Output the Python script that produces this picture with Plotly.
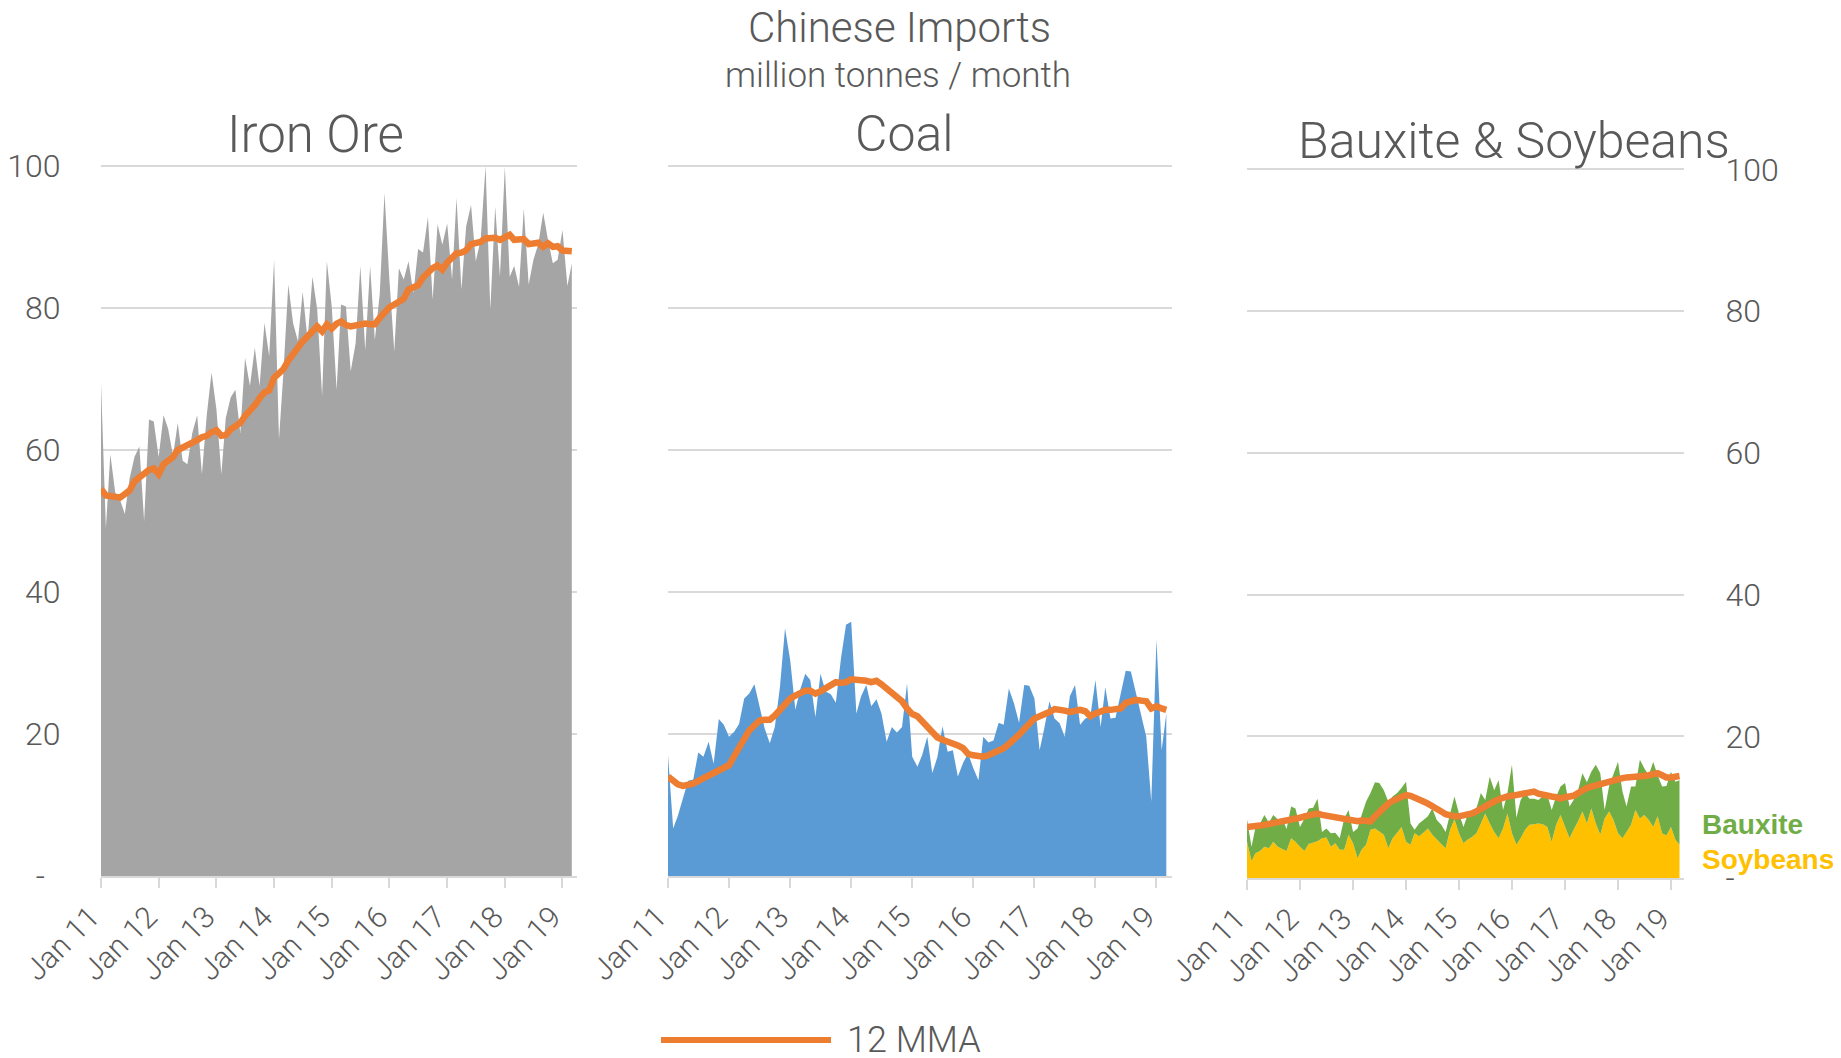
import pandas as pd
import plotly.graph_objects as go

# monthly observations, Jan 2011 - Mar 2019
months = pd.date_range("2011-01-01", "2019-03-01", freq="MS")

iron_ore = [69.4, 49, 59.4, 54, 53, 51, 56, 59, 60.5, 50,
            64.3, 64, 59, 64.9, 63, 59.2, 63.8, 58.5, 58, 62.4,
            64.9, 56.6, 65, 70.9, 65.7, 56.6, 64.5, 67.4, 68.5, 62.4,
            73, 69, 74.4, 69, 77.9, 73.2, 86.8, 61.5, 70.9, 83.3,
            77.9, 75.3, 82.3, 75.5, 84.4, 79.8, 67.6, 86.6, 80.2, 68.5,
            80.5, 80.2, 71.1, 75, 85.9, 74.1, 85.9, 75.5, 82, 96.2,
            84, 73.9, 85.6, 84, 86.6, 82.1, 88.3, 87.8, 92.8, 81.2,
            91.8, 88.9, 91.9, 84, 95.5, 82.6, 91.5, 94.5, 86.6, 89.6,
            100, 79.8, 94.3, 84.4, 99.9, 84.4, 85.9, 83, 94, 83.3,
            86.8, 89, 93.4, 89.6, 86.3, 86.8, 91, 83.1, 86.3]
iron_ore_mma = [54.5, 53.6, 53.5, 53.4, 53.3, 53.8, 54.3, 55.6, 56.2, 56.8,
                57.2, 57.4, 56.6, 58.0, 58.4, 59.0, 60.0, 60.3, 60.7, 61.0,
                61.4, 61.8, 62.0, 62.5, 62.8, 62.0, 62.1, 62.9, 63.3, 63.8,
                64.8, 65.4, 66.3, 67.3, 68.1, 68.4, 70.2, 70.8, 71.4, 72.6,
                73.6, 74.6, 75.3, 76.0, 76.6, 77.4, 76.7, 77.7, 77.1, 77.8,
                78.1, 77.6, 77.4, 77.6, 77.8, 77.8, 77.7, 77.7, 78.6, 79.5,
                80.1, 80.5, 80.9, 81.3, 82.6, 82.9, 83.2, 84.3, 85.0, 85.6,
                86.0, 85.4, 86.4, 87.1, 87.7, 87.8, 88.1, 89.0, 89.1, 89.3,
                89.8, 89.9, 89.9, 89.6, 90.0, 90.3, 89.6, 89.6, 89.7, 89.0,
                89.1, 89.2, 88.6, 89.1, 88.6, 88.7, 88.1, 88.0, 88.0]

coal = [17, 6.7, 8.5, 11, 13.4, 13.6, 17.4, 16.8, 18.9, 15.8,
        22.1, 21.3, 19.6, 20.3, 21.4, 25, 25.7, 27, 23.8, 20.8,
        18.7, 21, 26.7, 34.9, 30.4, 23.4, 26.2, 28.5, 27.6, 22.4,
        28.5, 26, 25.6, 24.4, 30.7, 35.4, 35.8, 22.9, 25.3, 26.9,
        23.9, 24.9, 22.9, 18.9, 21, 20.2, 21, 27.1, 16.8, 15.4,
        17, 19.6, 14.5, 16.8, 21.1, 17.5, 17.7, 14, 15.9, 17.3,
        15.2, 13.5, 19.6, 18.8, 19.1, 21.6, 21.3, 26.4, 24.3, 21.6,
        26.9, 26.8, 25, 17.7, 20.8, 24.6, 22.2, 21.5, 19.6, 25.3,
        26.9, 21.3, 22.2, 22.4, 27.6, 21, 26.6, 22.2, 22.3, 25.7,
        28.9, 28.8, 25.7, 22.4, 19.6, 10.5, 33.3, 17.7, 22.9]
coal_mma = [14.0, 13.5, 12.9, 12.7, 12.8, 13.0, 13.4, 13.8, 14.1, 14.4,
            15.0, 15.3, 15.6, 16.9, 18.2, 19.6, 20.5, 21.2, 21.9, 22.0,
            22.0, 22.6, 23.4, 24.2, 25.0, 25.4, 25.8, 26.1, 26.1, 25.7,
            26.0, 26.4, 27.0, 27.3, 27.2, 27.3, 27.7, 27.7, 27.6, 27.5,
            27.3, 27.5, 27.0, 26.4, 25.8, 25.3, 24.6, 23.6, 22.8, 22.5,
            21.8, 21.0, 20.3, 19.5, 19.2, 19.0, 18.8, 18.4, 18.0, 17.2,
            17.0, 16.8, 16.8, 17.0, 17.3, 17.7, 18.0, 18.6, 19.2, 19.9,
            20.7, 21.4, 22.2, 22.5, 22.7, 23.1, 23.5, 23.5, 23.3, 23.1,
            23.3, 23.4, 23.2, 22.5, 22.9, 23.2, 23.4, 23.4, 23.4, 23.6,
            24.4, 24.7, 24.8, 24.7, 24.6, 23.6, 23.9, 23.6, 23.4]

soybeans = [5.1, 2.4, 3.5, 3.8, 4.4, 4.2, 5.1, 4.4, 4.1, 3.8,
            5.6, 5.1, 4.4, 3.8, 4.8, 5.0, 5.2, 5.6, 5.7, 4.4,
            4.9, 4.0, 4.0, 6.1, 4.9, 2.8, 4.0, 4.7, 6.8, 7.0,
            6.6, 6.1, 4.2, 5.6, 6.4, 7.2, 5.1, 4.7, 6.3, 5.9,
            6.4, 7.0, 6.1, 5.4, 4.8, 4.2, 6.8, 8.3, 6.3, 4.9,
            5.4, 5.8, 6.3, 7.7, 9.1, 7.7, 6.5, 5.6, 7.0, 9.1,
            6.3, 4.7, 5.6, 6.8, 7.5, 7.6, 7.7, 7.6, 7.2, 5.1,
            7.5, 8.9, 7.2, 5.6, 6.8, 8.0, 9.4, 7.7, 9.8, 7.7,
            6.1, 8.4, 9.4, 8.2, 6.3, 5.6, 6.5, 7.5, 9.6, 8.4,
            8.9, 8.2, 7.2, 8.7, 6.3, 6.0, 7.2, 5.4, 4.7]
bauxite = [3.2, 2.0, 3.7, 3.9, 4.5, 3.6, 3.8, 3.9, 4.3, 3.1,
           4.5, 4.7, 2.8, 4.6, 5.0, 4.9, 6.0, 0.9, 1.3, 1.9,
           1.5, 1.6, 4.4, 3.5, 1.6, 4.2, 4.9, 6.1, 5.2, 6.5,
           6.8, 6.3, 6.6, 5.9, 5.6, 5.5, 8.5, 3.0, 0.5, 1.8,
           1.8, 1.7, 3.7, 2.8, 2.7, 2.3, 2.3, 3.2, 2.8, 2.3,
           3.5, 3.8, 3.5, 4.3, 1.9, 6.6, 5.9, 8.2, 2.6, 2.9,
           9.7, 3.8, 5.4, 5.2, 3.7, 3.6, 3.3, 3.9, 4.5, 4.5,
           4.0, 4.0, 6.2, 4.5, 4.2, 4.4, 5.4, 5.8, 5.2, 8.3,
           8.7, 1.2, 3.6, 6.6, 10.1, 6.6, 3.6, 5.4, 3.3, 8.3,
           6.6, 6.3, 9.2, 5.8, 6.6, 7.0, 7.8, 8.2, 9.1]
bauxite_soy_mma = [7.2, 7.2, 7.3, 7.4, 7.5, 7.6, 7.7, 7.8, 7.9, 8.1,
                   8.2, 8.3, 8.5, 8.7, 8.8, 9.0, 9.1, 8.9, 8.8, 8.6,
                   8.5, 8.3, 8.2, 8.1, 8.1, 8.0, 8.1, 8.0, 8.0, 8.7,
                   9.4, 10.0, 10.5, 10.9, 11.1, 11.4, 11.7, 11.6, 11.4, 11.1,
                   10.8, 10.5, 10.2, 9.8, 9.4, 9.0, 8.8, 8.7, 8.7, 8.8,
                   9.0, 9.1, 9.4, 9.8, 10.1, 10.4, 10.8, 11.1, 11.4, 11.5,
                   11.6, 11.7, 11.8, 12.0, 12.1, 12.2, 11.9, 11.7, 11.6, 11.5,
                   11.4, 11.2, 11.4, 11.5, 11.6, 12.0, 12.4, 12.7, 12.9, 13.1,
                   13.3, 13.4, 13.6, 13.9, 14.1, 14.1, 14.2, 14.2, 14.3, 14.4,
                   14.4, 14.5, 14.6, 14.8, 14.5, 14.2, 14.2, 14.3, 14.4]

for s in (iron_ore, iron_ore_mma, coal, coal_mma, soybeans, bauxite, bauxite_soy_mma):
    assert len(s) == len(months), len(s)

year_ticks = pd.date_range("2011-01-01", "2019-01-01", freq="YS")
year_labels = ["Jan 11", "Jan 12", "Jan 13", "Jan 14", "Jan 15",
               "Jan 16", "Jan 17", "Jan 18", "Jan 19"]
y_ticks = [0, 20, 40, 60, 80, 100]
y_labels_left = ["-\u00a0\u00a0", "20", "40", "60", "80", "100"]
y_labels_right = ["-", "20", "40", "60", "80", "100"]

W, H = 1841, 1058
OFF = 8  # the page body margin shifts the figure by this much
GRID = "#D9D9D9"
TEXT = "#595959"
ORANGE = "#ED7D31"
Y_TOP = 100.5  # a little headroom so the 100 gridline is drawn


def px(x):
    return (x - OFF) / W


def py(y):
    return 1 - (y - OFF) / H


fig = go.Figure()

fig.add_trace(go.Scatter(x=months, y=iron_ore, mode="lines", fill="tozeroy",
                         line=dict(width=0, color="#A5A5A5"), fillcolor="#A5A5A5",
                         xaxis="x", yaxis="y"))
fig.add_trace(go.Scatter(x=months, y=iron_ore_mma, mode="lines",
                         line=dict(width=6.5, color=ORANGE), xaxis="x", yaxis="y"))

fig.add_trace(go.Scatter(x=months, y=coal, mode="lines", fill="tozeroy",
                         line=dict(width=0, color="#5B9BD5"), fillcolor="#5B9BD5",
                         xaxis="x2", yaxis="y2"))
fig.add_trace(go.Scatter(x=months, y=coal_mma, mode="lines",
                         line=dict(width=6.5, color=ORANGE), xaxis="x2", yaxis="y2"))

fig.add_trace(go.Scatter(x=months, y=soybeans, mode="lines", stackgroup="bs",
                         line=dict(width=0, color="#FFC000"), fillcolor="#FFC000",
                         xaxis="x3", yaxis="y3"))
fig.add_trace(go.Scatter(x=months, y=bauxite, mode="lines", stackgroup="bs",
                         line=dict(width=0, color="#70AD47"), fillcolor="#70AD47",
                         xaxis="x3", yaxis="y3"))
fig.add_trace(go.Scatter(x=months, y=bauxite_soy_mma, mode="lines",
                         line=dict(width=6.5, color=ORANGE), xaxis="x3", yaxis="y3"))


def xaxis(x0, x1, anchor):
    return dict(domain=[px(x0), px(x1)], anchor=anchor, type="date",
                range=["2011-01-01", "2019-04-01"], automargin=False,
                tickvals=year_ticks, ticktext=[t + "\u00a0\u00a0" for t in year_labels],
                tickangle=-45,
                ticks="outside", ticklen=10, tickwidth=2, tickcolor=GRID,
                showline=True, linecolor=GRID, linewidth=2, showgrid=False,
                tickfont=dict(size=30, color=TEXT), ticklabelstandoff=-11,
                fixedrange=True)


def yaxis(px0, px100, anchor, **kw):
    # px0 / px100: pixel rows of the values 0 and 100
    top = px0 - (px0 - px100) * Y_TOP / 100
    d = dict(domain=[py(px0), py(top)], anchor=anchor, range=[0, Y_TOP],
             automargin=False,
             tickvals=y_ticks, showgrid=True, gridcolor=GRID, gridwidth=2,
             zeroline=False, showline=False, ticks="outside", ticklen=33,
             tickcolor="rgba(0,0,0,0)", tickfont=dict(size=32, color=TEXT),
             fixedrange=True)
    d.update(kw)
    return d


fig.update_layout(
    width=W, height=H,
    margin=dict(l=0, r=0, t=0, b=0, autoexpand=False),
    paper_bgcolor="white", plot_bgcolor="white",
    showlegend=False,
    font=dict(family="Roboto", color=TEXT, weight=300),
    xaxis=xaxis(101, 576.7, "y"),
    xaxis2=xaxis(668, 1171.5, "y2"),
    xaxis3=xaxis(1247, 1684, "y3"),
    yaxis=yaxis(876, 166, "x", ticktext=y_labels_left),
    yaxis2=yaxis(876, 166, "x2", showticklabels=False),
    yaxis3=yaxis(878, 169.5, "x3", side="right", ticktext=y_labels_right, ticklen=34),
)

annotations = [
    dict(text="Chinese Imports", x=899, y=28, size=42),
    dict(text="million tonnes / month", x=898, y=75, size=35),
    dict(text="Iron Ore", x=315, y=134, size=51),
    dict(text="Coal", x=904, y=134, size=50),
    dict(text="Bauxite & Soybeans", x=1514, y=141, size=50),
]
for a in annotations:
    fig.add_annotation(text=a["text"], x=px(a["x"]), y=py(a["y"]),
                       xref="paper", yref="paper", xanchor="center", yanchor="middle",
                       showarrow=False, font=dict(size=a["size"], color=TEXT))

for label, colour, y in (("Bauxite", "#70AD47", 824), ("Soybeans", "#FFC000", 859)):
    fig.add_annotation(text=label, x=px(1700), y=py(y), xref="paper", yref="paper",
                       xanchor="left", yanchor="middle", showarrow=False,
                       font=dict(family="Liberation Sans, Arial", size=28,
                                 color=colour, weight="bold"))

# legend key drawn by hand: a long line sample and its label
fig.add_shape(type="line", xref="paper", yref="paper",
              x0=px(661), x1=px(831), y0=py(1040), y1=py(1040),
              line=dict(color=ORANGE, width=6))
fig.add_annotation(text="12 MMA", x=px(845), y=py(1040), xref="paper", yref="paper",
                   xanchor="left", yanchor="middle", showarrow=False,
                   font=dict(size=36, color=TEXT))

fig.write_html("out.html")
